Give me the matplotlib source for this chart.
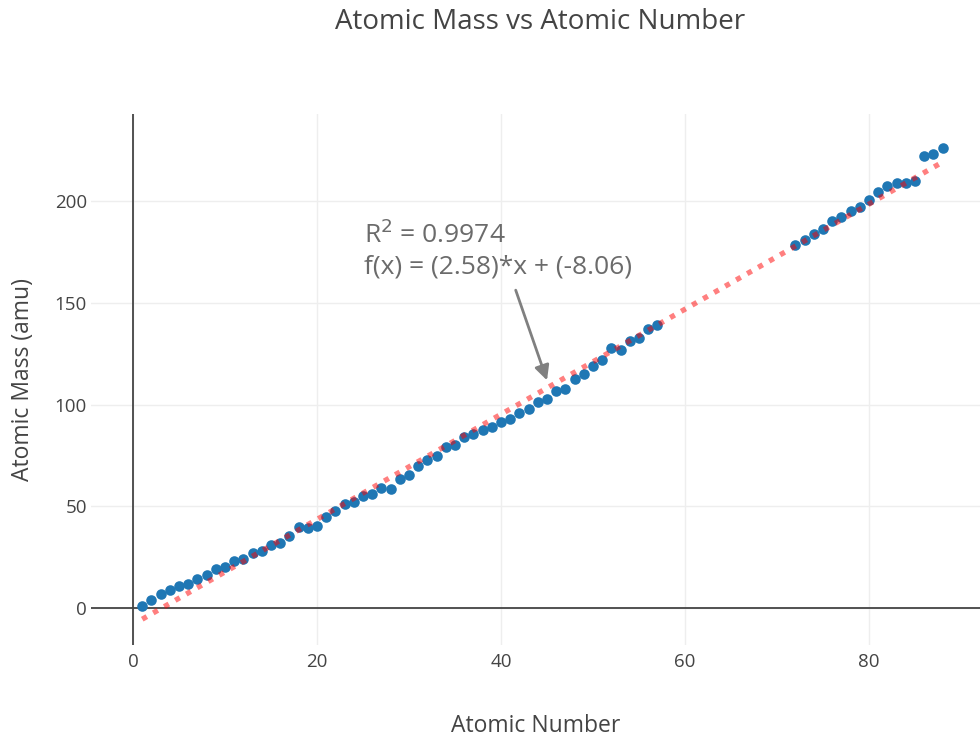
import matplotlib
matplotlib.use("Agg")
import matplotlib.pyplot as plt
import numpy as np

plt.rcParams['font.family'] = ['Open Sans', 'DejaVu Sans']

# atomic numbers and standard atomic masses (amu)
atomic_number = list(range(1, 58)) + list(range(72, 89))
atomic_mass = [
    1.008, 4.0026, 6.94, 9.012, 10.81, 12.011, 14.007, 15.999, 18.998, 20.180,
    22.990, 24.305, 26.982, 28.085, 30.974, 32.06, 35.45, 39.948, 39.098, 40.078,
    44.956, 47.867, 50.942, 51.996, 54.938, 55.845, 58.933, 58.693, 63.546, 65.38,
    69.723, 72.630, 74.922, 78.971, 79.904, 83.798, 85.468, 87.62, 88.906, 91.224,
    92.906, 95.95, 98.0, 101.07, 102.906, 106.42, 107.868, 112.414, 114.818, 118.710,
    121.760, 127.60, 126.904, 131.293, 132.905, 137.327, 138.905,
    178.49, 180.948, 183.84, 186.207, 190.23, 192.217, 195.084, 196.967, 200.592,
    204.38, 207.2, 208.980, 209.0, 210.0, 222.0, 223.0, 226.0,
]
x = np.array(atomic_number, dtype=float)
y = np.array(atomic_mass)

# linear fit
slope, intercept = np.polyfit(x, y, 1)
fit_y = slope * x + intercept

W, H = 980, 738
fig = plt.figure(figsize=(W / 100, H / 100), dpi=100)
ax = fig.add_axes([91 / W, (H - 645) / H, (980 - 91) / W, (645 - 114) / H])

ax.scatter(x, y, s=58, color='#1f77b4', zorder=3, linewidths=0)
ax.plot(x, fit_y, color='red', alpha=0.5, linewidth=3.8,
        linestyle=(0, (1, 1.4)), zorder=4)

ax.set_xlim(-4.57, 92.07)
ax.set_ylim(-18.2, 242.8)

ax.set_xticks([0, 20, 40, 60, 80])
ax.set_yticks([0, 50, 100, 150, 200])
ax.grid(True, color='#eeeeee', linewidth=1)
ax.set_axisbelow(True)
ax.axhline(0, color='#444444', linewidth=1.3, zorder=2)
ax.axvline(0, color='#444444', linewidth=1.3, zorder=2)
for s in ax.spines.values():
    s.set_visible(False)
ax.tick_params(length=0, labelsize=13.5, labelcolor='#444444')
ax.tick_params(axis='x', pad=6)
ax.tick_params(axis='y', pad=3)

ax.set_xlabel("Atomic Number", fontsize=16.5, color='#444444', labelpad=31)
ax.set_ylabel("Atomic Mass (amu)", fontsize=16.5, color='#444444', labelpad=14)
fig.text(540 / W, 1 - 22 / H, "Atomic Mass vs Atomic Number", fontsize=20,
         color='#444444', ha='center', va='center')

# annotation with arrow
ax.annotate('', xy=(45.1, 110.6), xytext=(41.5, 157.5),
            arrowprops=dict(arrowstyle='-|>', color='#808080', lw=2,
                            mutation_scale=22))
ax.text(25.1, 176, "R$^2$ = 0.9974\nf(x) = (2.58)*x + (-8.06)", fontsize=19,
        color='#6b6b6b', ha='left', va='center', linespacing=1.25)

fig.savefig("out.png", dpi=100)
